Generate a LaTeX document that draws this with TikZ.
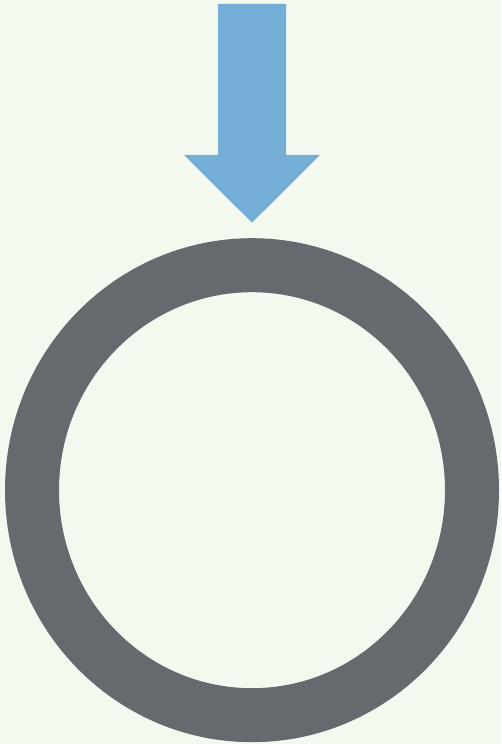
\documentclass[tikz,border=0pt]{standalone}
\usetikzlibrary{calc}
\definecolor{baggrund}{RGB}{244,249,240}
\definecolor{pilblaa}{RGB}{116,174,214}
\definecolor{ringgraa}{RGB}{101,106,111}

\begin{document}
\begin{tikzpicture}[x=1pt,y=1pt]
    % Baggrund (fastlaegger ogsaa billedets stoerrelse)
    \fill[baggrund] (0,0) rectangle (501,744);
    \useasboundingbox (0,0) rectangle (501,744);
    % Ring (let aflang lodret)
    \coordinate (centrum) at (252,253.8);
    \draw[line width=54pt,ringgraa] (centrum) ellipse (220 and 225);
    % Blaa pil ned mod ringen
    \coordinate (spids) at (252,521.3);
    \fill[pilblaa] (218,740) -- (286,740) -- (286,589) -- (320,589)
        -- (spids) -- (184,589) -- (218,589) -- cycle;
  \end{tikzpicture}
\end{document}
